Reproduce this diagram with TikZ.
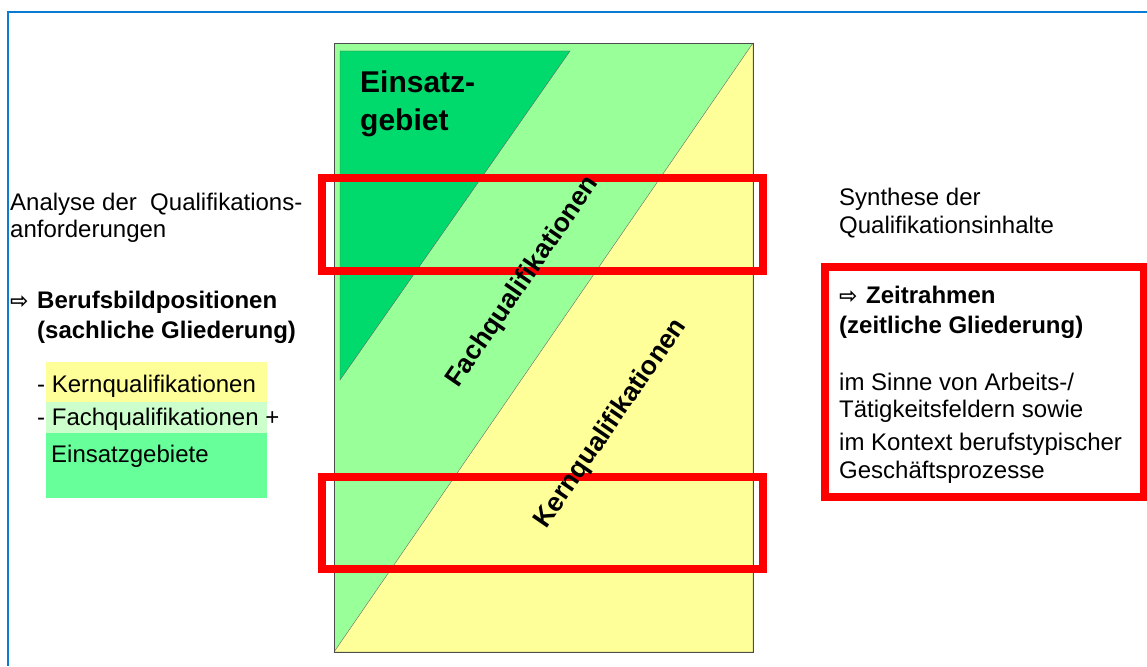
\documentclass[tikz,border=0pt]{standalone}
\usepackage{fontspec}
\setmainfont{Liberation Sans}
\newfontfamily\arrowfont{DejaVu Sans}
\usetikzlibrary{positioning}
\definecolor{kerngelb}{HTML}{FFFF99}
\definecolor{fachgruen}{HTML}{99FF99}
\definecolor{einsatzgruen}{HTML}{00D96B}
\definecolor{hellgruen}{HTML}{CCFFCC}
\definecolor{mittelgruen}{HTML}{66FF99}
\definecolor{randblau}{HTML}{0A7AD2}
\tikzset{plain text/.style={anchor=base west,inner sep=0pt,font=\fontsize{24}{28}\selectfont},
  bold text/.style={plain text,font=\fontsize{24}{28}\selectfont\bfseries},
  strip text/.style={inner sep=0pt,rotate=55.5,font=\fontsize{26.5}{30}\selectfont\bfseries},
  red frame/.style={draw=red,line width=8pt},
}
\newcommand{\pfeil}{\makebox[27pt][l]{\arrowfont\fontsize{22}{24}\selectfont ⇨}}

\begin{document}
\begin{tikzpicture}[x=1pt,y=-1pt]
\useasboundingbox (0,0) rectangle (1147,666);
\draw[randblau,line width=2pt] (8,666) -- (8,12) -- (1147,12);

% Qualifikationsblock
\fill[fachgruen] (334,43) rectangle (753,652);
\filldraw[fill=kerngelb,draw=black!60,thin] (334,652) -- (753,43) -- (753,652) -- cycle;
\filldraw[fill=einsatzgruen,draw=black!60,thin] (340,51) -- (570,51) -- (340,380) -- cycle;
\draw[black!70,thin] (334,43) rectangle (753,652);

\draw[red frame] (322,178) rectangle (763,271);
\draw[red frame] (322,477) rectangle (763,569);

\node[bold text,font=\fontsize{30}{36}\selectfont\bfseries] (einsatz1) at (360,93) {Einsatz-};
\node[bold text,font=\fontsize{30}{36}\selectfont\bfseries] (einsatz2) at (360,130) {gebiet};
\node[strip text] (fach) at (523,282) {Fachqualifikationen};
\node[strip text] (kern) at (611,424) {Kernqualifikationen};

% linke Seite
\node[plain text] (analyse1) at (10,210) {Analyse der\ \ Qualifikations-};
\node[plain text] (analyse2) at (10,237) {anforderungen};
\node[bold text] (beruf1) at (10,308) {\pfeil Berufsbildpositionen};
\node[bold text] (beruf2) at (37,338) {(sachliche Gliederung)};

\fill[kerngelb] (46,362) rectangle (267,402);
\fill[hellgruen] (46,402) rectangle (267,433);
\fill[mittelgruen] (46,433) rectangle (267,498);
\node[plain text] (liste1) at (37,392) {- Kernqualifikationen};
\node[plain text] (liste2) at (37,425) {- Fachqualifikationen +};
\node[plain text] (liste3) at (51,462) {Einsatzgebiete};

% rechte Seite
\node[plain text] (synthese1) at (839,205) {Synthese der};
\node[plain text] (synthese2) at (839,233) {Qualifikationsinhalte};
\draw[red frame] (825,267) rectangle (1144,497);
\node[bold text] (zeit1) at (839,303) {\pfeil Zeitrahmen};
\node[bold text] (zeit2) at (839,333) {(zeitliche Gliederung)};
\node[plain text] (sinn1) at (839,390) {im Sinne von Arbeits-/};
\node[plain text] (sinn2) at (839,417) {Tätigkeitsfeldern sowie};
\node[plain text] (sinn3) at (839,450) {im Kontext berufstypischer};
\node[plain text] (sinn4) at (839,478) {Geschäftsprozesse};
\end{tikzpicture}
\end{document}
